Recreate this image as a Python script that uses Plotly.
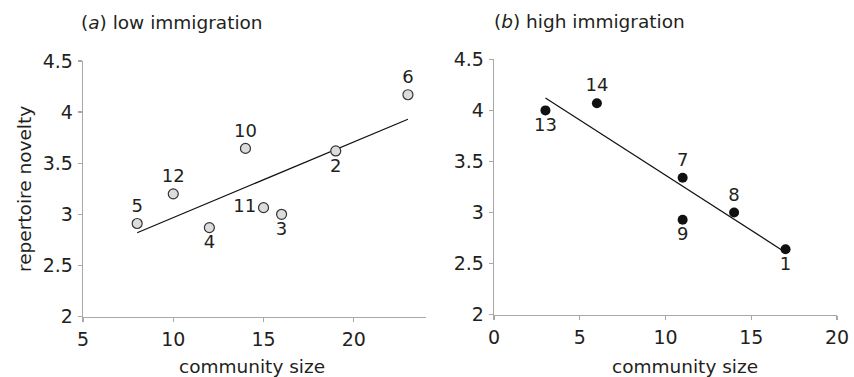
import numpy as np
import plotly.graph_objects as go

# Panel (a): low immigration
a_ids = ["5", "12", "4", "11", "3", "10", "2", "6"]
a_size = [8, 10, 12, 15, 16, 14, 19, 23]
a_novelty = [2.91, 3.20, 2.87, 3.065, 3.00, 3.645, 3.62, 4.17]
a_pos = ["top center", "top center", "bottom center", "middle left",
         "bottom center", "top center", "bottom center", "top center"]

# Panel (b): high immigration
b_ids = ["13", "14", "7", "8", "9", "1"]
b_size = [3, 6, 11, 14, 11, 17]
b_novelty = [4.00, 4.07, 3.34, 3.00, 2.93, 2.64]
b_pos = ["bottom center", "top center", "top center", "top center",
         "bottom center", "bottom center"]

y_ticks = [2, 2.5, 3, 3.5, 4, 4.5]
a_xticks = [5, 10, 15, 20]
b_xticks = [0, 5, 10, 15, 20]

W, H = 854, 377
FONT = "DejaVu Sans"
TXT = "#231f20"
AX = "#a8a8a8"

def fit(x, y):
    k, c = np.polyfit(x, y, 1)
    xs = np.array([min(x), max(x)])
    return xs, k * xs + c

fig = go.Figure()

xa, ya = fit(a_size, a_novelty)
fig.add_trace(go.Scatter(x=xa, y=ya, mode="lines", line=dict(color="#111", width=1.2),
                         xaxis="x", yaxis="y", showlegend=False, hoverinfo="skip"))
fig.add_trace(go.Scatter(x=a_size, y=a_novelty, mode="markers+text", text=a_ids,
                         textposition=a_pos, textfont=dict(size=18, color=TXT, family=FONT),
                         marker=dict(size=10, color="#dcdcdc", line=dict(color="#333", width=1.2)),
                         xaxis="x", yaxis="y", showlegend=False, cliponaxis=False))

xb, yb = fit(b_size, b_novelty)
fig.add_trace(go.Scatter(x=xb, y=yb, mode="lines", line=dict(color="#111", width=1.2),
                         xaxis="x2", yaxis="y2", showlegend=False, hoverinfo="skip"))
fig.add_trace(go.Scatter(x=b_size, y=b_novelty, mode="markers+text", text=b_ids,
                         textposition=b_pos, textfont=dict(size=18, color=TXT, family=FONT),
                         marker=dict(size=10, color="#111"),
                         xaxis="x2", yaxis="y2", showlegend=False, cliponaxis=False))

def px_x(p):
    return p / W

def px_y(p):
    return 1 - p / H

axis_common = dict(showline=True, linecolor=AX, linewidth=1.3, ticks="outside",
                   ticklen=4, tickcolor=AX, tickwidth=1.3, showgrid=False, zeroline=False,
                   automargin=False,
                   tickfont=dict(size=19, color=TXT, family=FONT), fixedrange=True)

fig.update_layout(
    template="none",
    width=W, height=H, margin=dict(l=0, r=0, t=0, b=0, autoexpand=False),
    paper_bgcolor="white", plot_bgcolor="white",
    font=dict(family=FONT, color=TXT),
    xaxis=dict(domain=[px_x(83), px_x(426)], range=[5, 24], tickvals=a_xticks,
               anchor="y", ticklabelstandoff=1, **axis_common),
    yaxis=dict(domain=[px_y(316.5), px_y(61)], range=[2, 4.5], tickvals=y_ticks,
               ticktext=[f"{v:g}" for v in y_ticks], anchor="x", ticklabelstandoff=1,
               **axis_common),
    xaxis2=dict(domain=[px_x(494), px_x(837)], range=[0, 20], tickvals=b_xticks,
                anchor="y2", ticklabelstandoff=1, **axis_common),
    yaxis2=dict(domain=[px_y(314.7), px_y(59.3)], range=[2, 4.5], tickvals=y_ticks,
                ticktext=[f"{v:g}" for v in y_ticks], anchor="x2", ticklabelstandoff=1,
                **axis_common),
    annotations=[
        dict(text="(<i>a</i>) low immigration", x=px_x(79), y=px_y(23), xref="paper", yref="paper",
             xanchor="left", yanchor="middle", showarrow=False,
             font=dict(size=18.5, color=TXT, family=FONT)),
        dict(text="(<i>b</i>) high immigration", x=px_x(492), y=px_y(22), xref="paper", yref="paper",
             xanchor="left", yanchor="middle", showarrow=False,
             font=dict(size=18.5, color=TXT, family=FONT)),
        dict(text="community size", x=px_x(252), y=px_y(366), xref="paper", yref="paper",
             xanchor="center", yanchor="middle", showarrow=False,
             font=dict(size=18.5, color=TXT, family=FONT)),
        dict(text="community size", x=px_x(685), y=px_y(366), xref="paper", yref="paper",
             xanchor="center", yanchor="middle", showarrow=False,
             font=dict(size=18.5, color=TXT, family=FONT)),
        dict(text="repertoire novelty", x=px_x(24), y=px_y(189), xref="paper", yref="paper",
             xanchor="center", yanchor="middle", showarrow=False, textangle=-90,
             font=dict(size=18.5, color=TXT, family=FONT)),
    ],
)

# remove the page's default body margin so the figure fills the window exactly
fig.write_html("out.html",
               config={"displayModeBar": False, "staticPlot": True},
               post_script="document.body.style.margin='0';document.body.style.overflow='hidden';")
